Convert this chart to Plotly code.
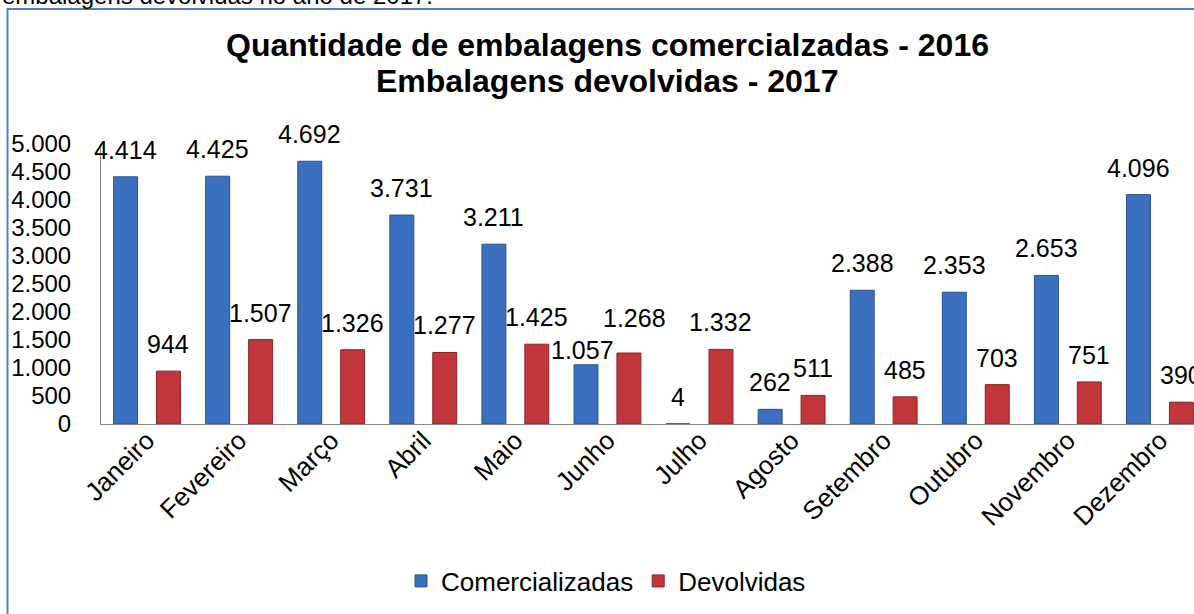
import plotly.graph_objects as go

months = ["Janeiro", "Fevereiro", "Março", "Abril", "Maio", "Junho",
          "Julho", "Agosto", "Setembro", "Outubro", "Novembro", "Dezembro"]
comercializadas = [4414, 4425, 4692, 3731, 3211, 1057, 4, 262, 2388, 2353, 2653, 4096]
devolvidas = [944, 1507, 1326, 1277, 1425, 1268, 1332, 511, 485, 703, 751, 390]
y_ticks = [0, 500, 1000, 1500, 2000, 2500, 3000, 3500, 4000, 4500, 5000]

W, H = 1194, 614
ML, MR, MT, MB = 101, 0, 144, 190
PW = W - ML - MR
PH = H - MT - MB
X_RANGE = [-0.5, 11.37]   # the chart is cut off at the right edge of the picture


def px_x(p):
    return (p - ML) / PW


def px_y(p):
    return (H - MB - p) / PH


def fmt(v):
    return f"{v:,}".replace(",", ".")


FONT = "Liberation Sans, Arial, sans-serif"
BLUE, BLUE_EDGE = "#3B6FBF", "#2A5190"
RED, RED_EDGE = "#C0363A", "#8B2426"
BAR_W, BAR_C = 0.26, 0.233

fig = go.Figure()
fig.add_trace(go.Bar(x=months, y=comercializadas, name="Comercializadas",
                     marker=dict(color=BLUE, line=dict(color=BLUE_EDGE, width=1)),
                     width=BAR_W, offset=-BAR_C - BAR_W / 2))
fig.add_trace(go.Bar(x=months, y=devolvidas, name="Devolvidas",
                     marker=dict(color=RED, line=dict(color=RED_EDGE, width=1)),
                     width=BAR_W, offset=BAR_C - BAR_W / 2))

annotations = []
cat_px = PW / (X_RANGE[1] - X_RANGE[0])
# label adjustments (style only): (series, index) -> (xshift, yshift)
adjust = {("c", 5): (-3, -1), ("d", 5): (6, 19)}
for i, m in enumerate(months):
    for key, vals, sx in (("c", comercializadas, -BAR_C), ("d", devolvidas, BAR_C)):
        dx, dy = adjust.get((key, i), (0, 11))
        annotations.append(dict(x=m, y=vals[i], xref="x", yref="y", text=fmt(vals[i]),
                                showarrow=False, yanchor="bottom", xanchor="center",
                                xshift=sx * cat_px + dx, yshift=dy,
                                font=dict(family=FONT, size=25, color="#000000")))

annotations.append(dict(x=px_x(607), y=px_y(65), xref="paper", yref="paper",
                        text="<b>Quantidade de embalagens comercialzadas - 2016</b>",
                        showarrow=False, xanchor="center", yanchor="bottom",
                        font=dict(family=FONT, size=32, color="#000000")))
annotations.append(dict(x=px_x(607), y=px_y(101), xref="paper", yref="paper",
                        text="<b>Embalagens devolvidas - 2017</b>",
                        showarrow=False, xanchor="center", yanchor="bottom",
                        font=dict(family=FONT, size=32, color="#000000")))
annotations.append(dict(x=px_x(0), y=px_y(11), xref="paper", yref="paper",
                        text="embalagens devolvidas no ano de 2017.",
                        showarrow=False, xanchor="left", yanchor="bottom",
                        font=dict(family=FONT, size=24, color="#000000")))

fig.update_layout(
    width=W, height=H,
    margin=dict(l=ML, r=MR, t=MT, b=MB),
    paper_bgcolor="white", plot_bgcolor="white",
    barmode="overlay",
    separators=",.",
    font=dict(family=FONT, size=24, color="#000000"),
    annotations=annotations,
    shapes=[dict(type="rect", xref="paper", yref="paper",
                 x0=px_x(7.5), x1=1.05, y0=-1.0, y1=px_y(9),
                 line=dict(color="#4F81BD", width=2), fillcolor="rgba(0,0,0,0)")],
    legend=dict(orientation="h", x=px_x(606), xanchor="center",
                y=px_y(581), yanchor="middle",
                font=dict(family=FONT, size=26, color="#000000")),
    xaxis=dict(range=X_RANGE, showgrid=False, showline=True, linecolor="#868686",
               linewidth=1, tickangle=-45, ticks="", tickfont=dict(family=FONT, size=26),
               ticklabelstandoff=-10),
    yaxis=dict(range=[0, 5000], tickvals=y_ticks, ticktext=[fmt(v) for v in y_ticks],
               showgrid=False, showline=True, linecolor="#868686", linewidth=1,
               ticks="", tickfont=dict(family=FONT, size=24), ticklabelstandoff=24,
               zeroline=False),
)

fig.write_html("out.html")
